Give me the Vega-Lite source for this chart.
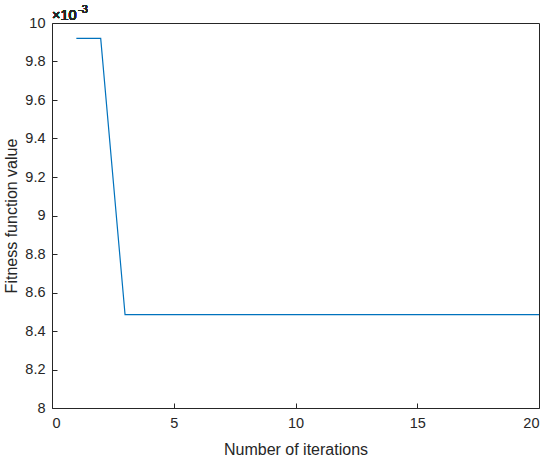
{
  "$schema": "https://vega.github.io/schema/vega-lite/v6.json",
  "width": 487,
  "height": 385,
  "autosize": {"type": "none"},
  "padding": {"left": 52, "top": 23, "right": 11, "bottom": 49},
  "background": "white",
  "config": {
    "view": {"stroke": "#262626", "strokeWidth": 1},
    "font": "Liberation Sans",
    "axis": {
      "grid": false,
      "domain": false,
      "tickColor": "#262626",
      "labelColor": "#262626",
      "titleColor": "#262626",
      "labelFont": "Liberation Sans",
      "titleFont": "Liberation Sans",
      "labelFontSize": 14.5,
      "titleFontSize": 16,
      "titleFontWeight": "normal"
    }
  },
  "data": {"values": [
    {"iteration": 1, "fitness_e3": 9.92},
    {"iteration": 2, "fitness_e3": 9.92},
    {"iteration": 3, "fitness_e3": 8.485},
    {"iteration": 4, "fitness_e3": 8.485},
    {"iteration": 5, "fitness_e3": 8.485},
    {"iteration": 6, "fitness_e3": 8.485},
    {"iteration": 7, "fitness_e3": 8.485},
    {"iteration": 8, "fitness_e3": 8.485},
    {"iteration": 9, "fitness_e3": 8.485},
    {"iteration": 10, "fitness_e3": 8.485},
    {"iteration": 11, "fitness_e3": 8.485},
    {"iteration": 12, "fitness_e3": 8.485},
    {"iteration": 13, "fitness_e3": 8.485},
    {"iteration": 14, "fitness_e3": 8.485},
    {"iteration": 15, "fitness_e3": 8.485},
    {"iteration": 16, "fitness_e3": 8.485},
    {"iteration": 17, "fitness_e3": 8.485},
    {"iteration": 18, "fitness_e3": 8.485},
    {"iteration": 19, "fitness_e3": 8.485},
    {"iteration": 20, "fitness_e3": 8.485}
  ]},
  "layer": [
    {
      "mark": {"type": "line", "color": "#0072BD", "strokeWidth": 1.2},
      "encoding": {
        "x": {
          "field": "iteration", "type": "quantitative",
          "scale": {"domain": [0, 20], "nice": false},
          "axis": {"title": "Number of iterations", "values": [0, 5, 10, 15, 20], "tickCount": 20, "offset": -5, "tickSize": 5, "tickWidth": 1, "labelPadding": 8, "titlePadding": 12, "labelOverlap": false}
        },
        "y": {
          "field": "fitness_e3", "type": "quantitative",
          "scale": {"domain": [8, 10], "nice": false, "zero": false},
          "axis": {
            "title": "Fitness function value",
            "values": [8, 8.2, 8.4, 8.6, 8.8, 9, 9.2, 9.4, 9.6, 9.8, 10],
            "tickCount": 20,
            "format": "~g",
            "labelOverlap": false,
            "offset": -5,
            "tickSize": 5,
            "tickWidth": 1,
            "labelPadding": 7,
            "titlePadding": 5
          }
        }
      }
    },
    {
      "mark": {"type": "text", "align": "left", "baseline": "alphabetic", "fontSize": 14.5, "fontWeight": "normal", "dx": 0, "dy": -3, "color": "#262626", "font": "Liberation Sans"},
      "encoding": {
        "x": {"datum": 0, "type": "quantitative"},
        "y": {"datum": 10, "type": "quantitative"},
        "text": {"value": "×10"}
      }
    },
    {
      "mark": {"type": "text", "align": "left", "baseline": "alphabetic", "fontSize": 11, "fontWeight": "normal", "dx": 26, "dy": -10, "color": "#262626", "font": "Liberation Sans"},
      "encoding": {
        "x": {"datum": 0, "type": "quantitative"},
        "y": {"datum": 10, "type": "quantitative"},
        "text": {"value": "-3"}
      }
    }
  ]
}
